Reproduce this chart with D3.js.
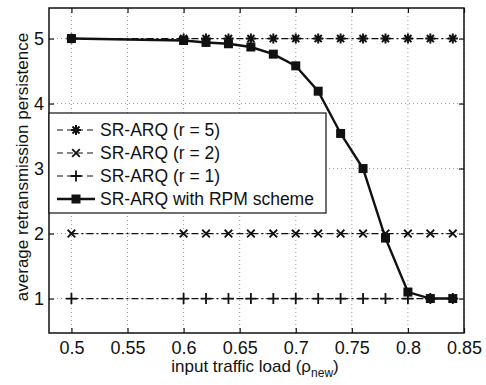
<!DOCTYPE html>
<html lang="en">
<head>
    <meta charset="UTF-8">
    <title>Retransmission persistence</title>
    <script src="https://d3js.org/d3.v7.min.js"></script>
</head>
<body>
    <div id="container"></div>
</body>

<style>
body {
    margin: 0;
    background: #fff;
}
svg text {
    font-family: "Liberation Sans", Arial, sans-serif;
    fill: #111;
}
</style>

<script>
    // input traffic load values
    const loads = [0.5, 0.6, 0.62, 0.64, 0.66, 0.68, 0.7, 0.72, 0.74, 0.76, 0.78, 0.8, 0.82, 0.84]

    const r5 = [5, 5, 5, 5, 5, 5, 5, 5, 5, 5, 5, 5, 5, 5]
    const r2 = [2, 2, 2, 2, 2, 2, 2, 2, 2, 2, 2, 2, 2, 2]
    const r1 = [1, 1, 1, 1, 1, 1, 1, 1, 1, 1, 1, 1, 1, 1]
    const rpm = [5, 4.97, 4.94, 4.92, 4.87, 4.76, 4.58, 4.19, 3.54, 3.0, 1.93, 1.1, 1, 1]

    const xTicks = [0.5, 0.55, 0.6, 0.65, 0.7, 0.75, 0.8, 0.85]
    const yTicks = [1, 2, 3, 4, 5]

    const legendNames = ['SR-ARQ (r = 5)', 'SR-ARQ (r = 2)', 'SR-ARQ (r = 1)', 'SR-ARQ with RPM scheme']

    const width = 486
    const height = 385
    const plot = {left: 49, top: 8, right: 464, bottom: 333}

    const svg = d3.select('#container')
        .append('svg')
        .attr('width', width)
        .attr('height', height)

    const x = d3.scaleLinear().domain([0.48, 0.85]).range([plot.left, plot.right])
    const y = d3.scaleLinear().domain([0.47, 5.47]).range([plot.bottom, plot.top])

    // grid
    const grid = svg.append('g')
        .attr('stroke', '#999')
        .attr('stroke-width', 1)
        .attr('stroke-dasharray', '1,3')
    grid.selectAll('.gx')
        .data(xTicks)
        .enter()
        .append('line')
        .attr('x1', d => x(d)).attr('x2', d => x(d))
        .attr('y1', plot.top).attr('y2', plot.bottom)
    grid.selectAll('.gy')
        .data(yTicks)
        .enter()
        .append('line')
        .attr('y1', d => y(d)).attr('y2', d => y(d))
        .attr('x1', plot.left).attr('x2', plot.right)

    // axes, ticks pointing inward like matlab
    const fmt = d => String(d)
    const axB = svg.append('g')
        .attr('transform', 'translate(0,' + plot.bottom + ')')
        .call(d3.axisBottom(x).tickValues(xTicks).tickFormat(fmt).tickSize(-5).tickPadding(8))
    const axT = svg.append('g')
        .attr('transform', 'translate(0,' + plot.top + ')')
        .call(d3.axisTop(x).tickValues(xTicks).tickFormat('').tickSize(-5))
    const axL = svg.append('g')
        .attr('transform', 'translate(' + plot.left + ',0)')
        .call(d3.axisLeft(y).tickValues(yTicks).tickFormat(fmt).tickSize(-5).tickPadding(5))
    const axR = svg.append('g')
        .attr('transform', 'translate(' + plot.right + ',0)')
        .call(d3.axisRight(y).tickValues(yTicks).tickFormat('').tickSize(-5))

    ;[axB, axT, axL, axR].forEach(function (a) {
        a.select('.domain').remove()
        a.selectAll('line').attr('stroke', '#111').attr('stroke-width', 1.2)
        a.selectAll('text')
            .style('font-family', '"Liberation Sans", Arial, sans-serif')
            .style('font-size', '18px')
            .attr('fill', '#111')
    })

    svg.append('rect')
        .attr('x', plot.left).attr('y', plot.top)
        .attr('width', plot.right - plot.left)
        .attr('height', plot.bottom - plot.top)
        .attr('fill', 'none')
        .attr('stroke', '#111')
        .attr('stroke-width', 1.5)

    // marker shapes
    function asterisk(p, cx, cy) {
        const r = 5
        for (let k = 0; k < 4; ++k) {
            const a = k * Math.PI / 4
            p.moveTo(cx - r * Math.cos(a), cy - r * Math.sin(a))
            p.lineTo(cx + r * Math.cos(a), cy + r * Math.sin(a))
        }
    }
    function times(p, cx, cy) {
        const r = 3.8
        p.moveTo(cx - r, cy - r); p.lineTo(cx + r, cy + r)
        p.moveTo(cx - r, cy + r); p.lineTo(cx + r, cy - r)
    }
    function plus(p, cx, cy) {
        const r = 5.5
        p.moveTo(cx - r, cy); p.lineTo(cx + r, cy)
        p.moveTo(cx, cy - r); p.lineTo(cx, cy + r)
    }

    const series = [
        {name: legendNames[0], vals: r5, marker: asterisk, width: 1.2, dash: '7,3,2,3', mw: 2},
        {name: legendNames[1], vals: r2, marker: times, width: 1.2, dash: '7,3,2,3', mw: 1.8},
        {name: legendNames[2], vals: r1, marker: plus, width: 1.2, dash: '7,3,2,3', mw: 1.8},
        {name: legendNames[3], vals: rpm, marker: null, width: 2.4, dash: null, mw: 0}
    ]

    const line = d3.line()
        .x(d => x(d[0]))
        .y(d => y(d[1]))

    const g = svg.append('g')
    series.forEach(function (s) {
        const pts = loads.map((l, i) => [l, s.vals[i]])
        g.append('path')
            .attr('d', line(pts))
            .attr('fill', 'none')
            .attr('stroke', '#111')
            .attr('stroke-width', s.width)
            .attr('stroke-dasharray', s.dash)
        if (s.marker) {
            const p = d3.path()
            pts.forEach(d => s.marker(p, x(d[0]), y(d[1])))
            g.append('path')
                .attr('d', p.toString())
                .attr('stroke', '#111')
                .attr('stroke-width', s.mw)
                .attr('fill', 'none')
        }
        else {
            g.selectAll('.sq')
                .data(pts)
                .enter()
                .append('rect')
                .attr('x', d => x(d[0]) - 4.5)
                .attr('y', d => y(d[1]) - 4.5)
                .attr('width', 9)
                .attr('height', 9)
                .attr('fill', '#111')
        }
    })

    // legend
    const lg = svg.append('g')
    lg.append('rect')
        .attr('x', plot.left).attr('y', 113)
        .attr('width', 326 - plot.left).attr('height', 100)
        .attr('fill', '#fff')
        .attr('stroke', '#111')
        .attr('stroke-width', 1.2)

    series.forEach(function (s, i) {
        const ly = 130 + i * 23
        lg.append('line')
            .attr('x1', 57).attr('x2', 95)
            .attr('y1', ly).attr('y2', ly)
            .attr('stroke', '#111')
            .attr('stroke-width', s.width)
            .attr('stroke-dasharray', s.dash ? '6,4' : null)
        if (s.marker) {
            const p = d3.path()
            s.marker(p, 76, ly)
            lg.append('path')
                .attr('d', p.toString())
                .attr('stroke', '#111')
                .attr('stroke-width', s.mw)
        }
        else {
            lg.append('rect')
                .attr('x', 71.5).attr('y', ly - 4.5)
                .attr('width', 9).attr('height', 9)
                .attr('fill', '#111')
        }
        lg.append('text')
            .attr('x', 100)
            .attr('y', ly + 6)
            .style('font-size', '17.5px')
            .text(s.name)
    })

    // axis titles
    const xt = svg.append('text')
        .attr('x', 255)
        .attr('y', 372)
        .attr('text-anchor', 'middle')
        .style('font-size', '17px')
    xt.append('tspan').text('input traffic load (ρ')
    xt.append('tspan').attr('dy', 5).style('font-size', '12px').text('new')
    xt.append('tspan').attr('dy', -5).text(')')

    svg.append('text')
        .attr('transform', 'translate(28,167) rotate(-90)')
        .attr('text-anchor', 'middle')
        .style('font-size', '17px')
        .text('average retransmission persistence')
</script>
</html>
